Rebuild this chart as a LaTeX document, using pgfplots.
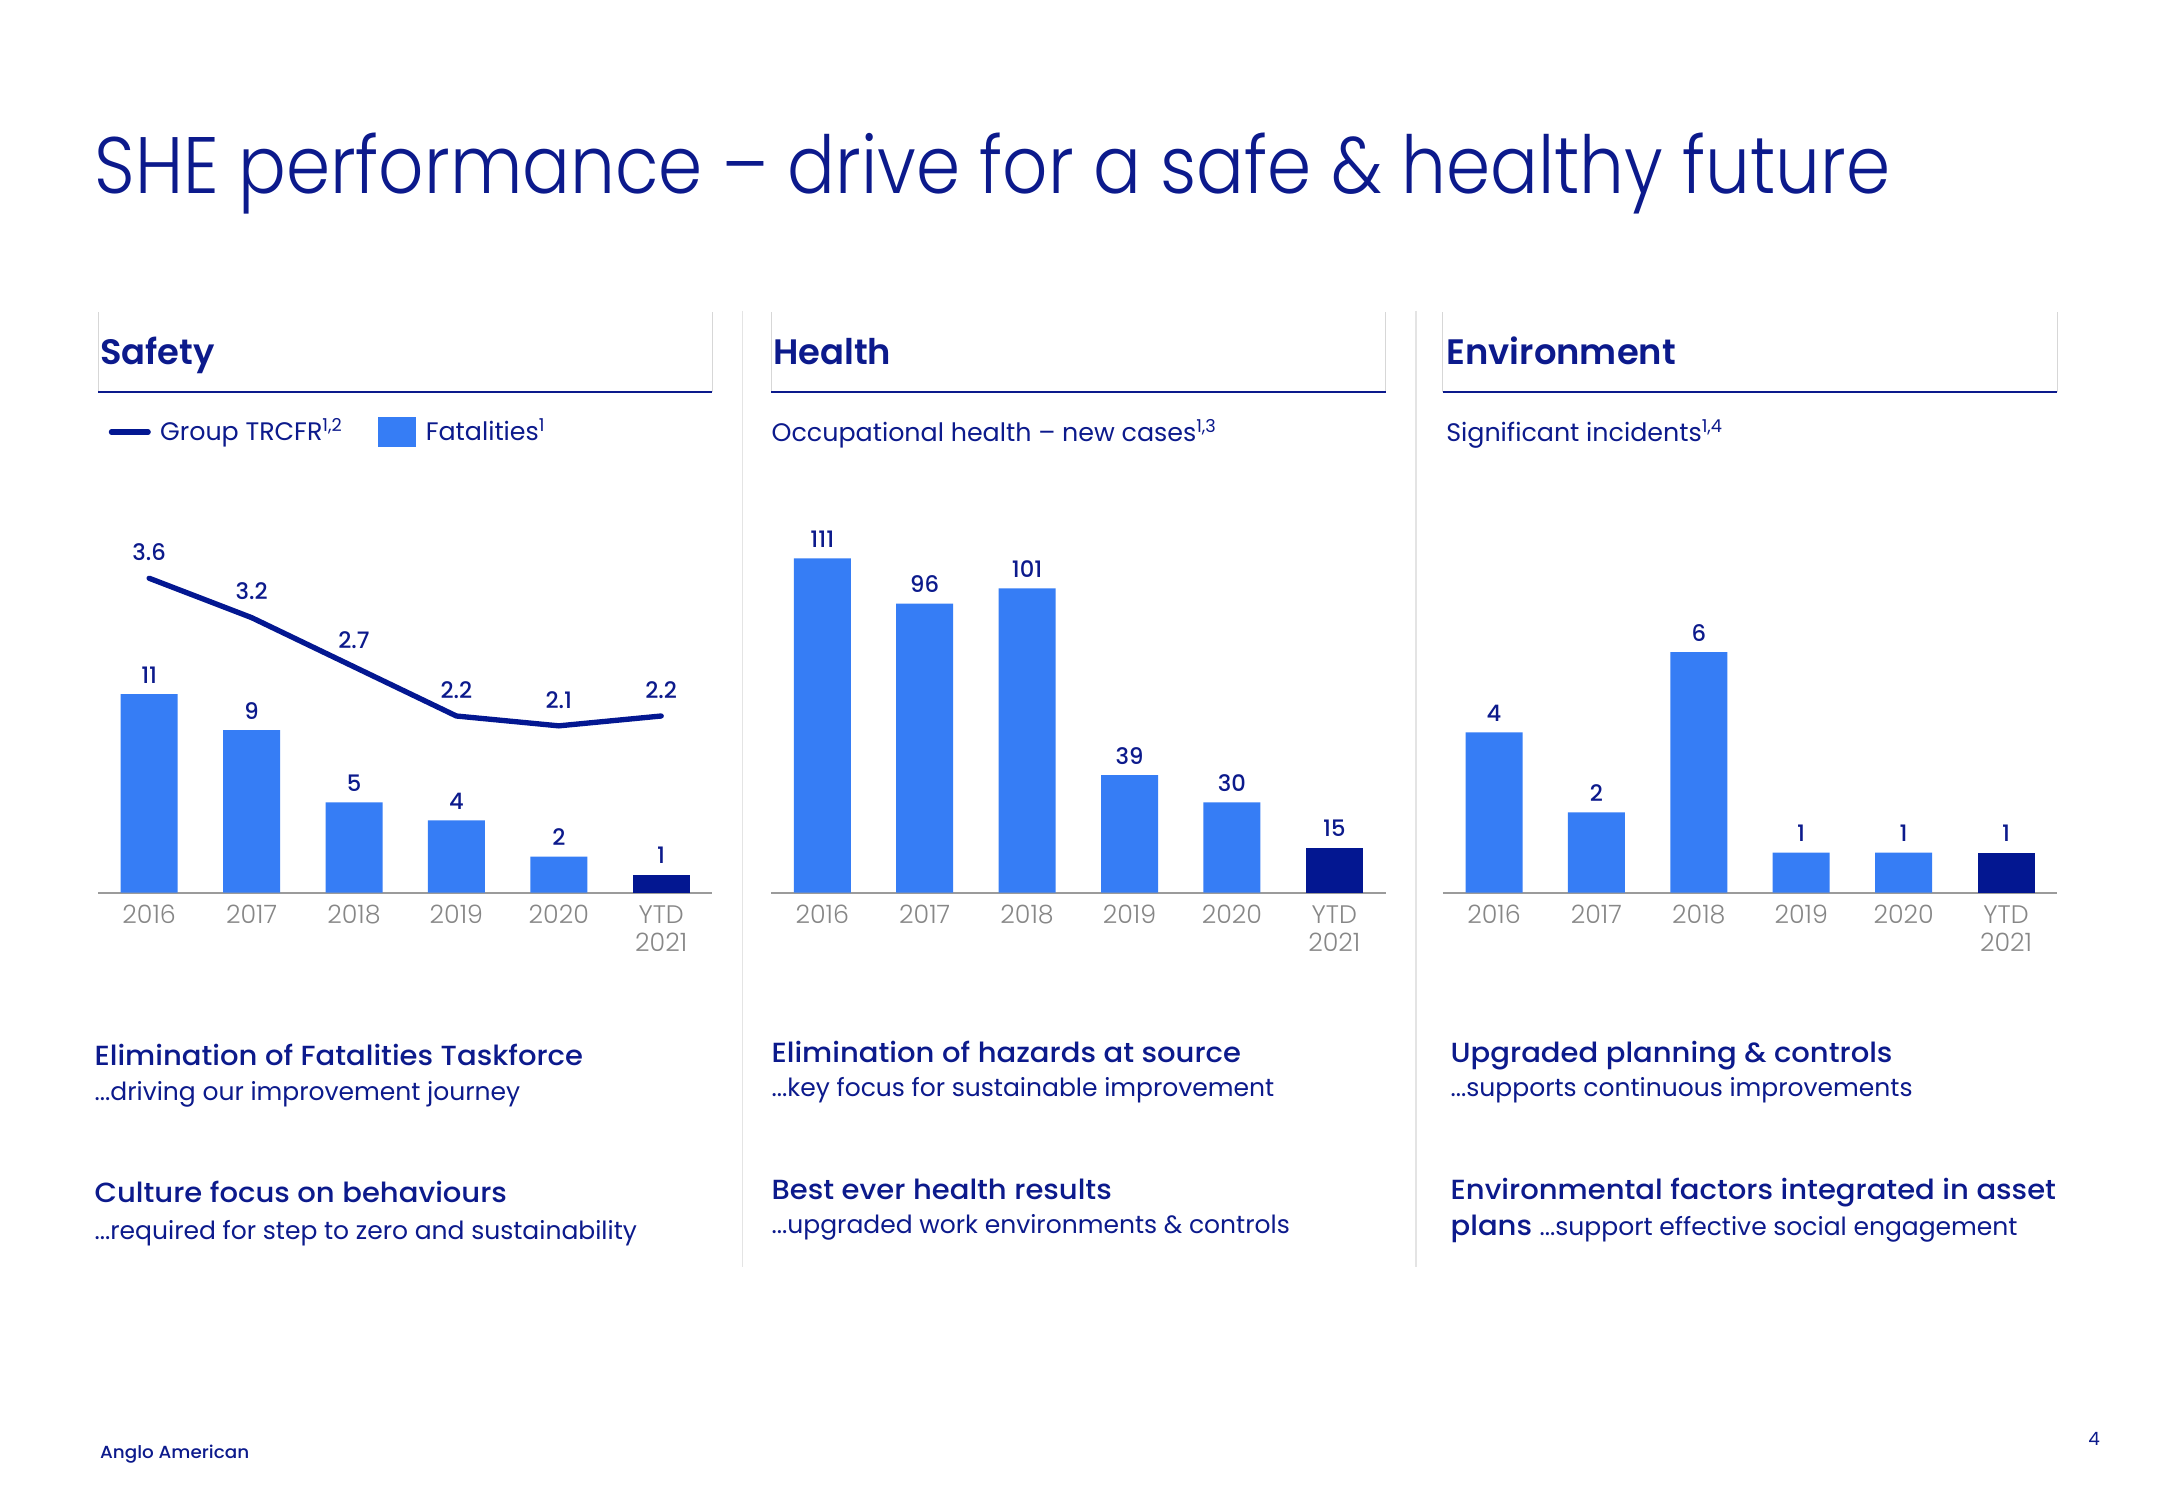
\documentclass[border=0pt]{standalone}
\usepackage{fontspec}
\setmainfont{Poppins}[BoldFont={Poppins Medium}, BoldFeatures={FakeStretch=1.05}]
\newfontfamily\titlefont{Poppins Light}[FakeStretch=0.886]
\newfontfamily\lightfont{Poppins Light}
\newfontfamily\headfont{Poppins SemiBold}
\newfontfamily\numfont{Poppins Medium}[Numbers=Monospaced]
\usepackage{pgfplots}
\pgfplotsset{compat=1.18}
\definecolor{aanavy}{RGB}{12,26,140}
\definecolor{aabar}{RGB}{54,125,245}
\definecolor{aadark}{RGB}{3,23,145}
\definecolor{aagray}{RGB}{135,135,135}
\definecolor{aaaxis}{RGB}{155,155,155}
\definecolor{aabox}{RGB}{215,215,215}
\definecolor{aasep}{RGB}{228,228,228}
\pgfplotsset{
  panel/.style={
    anchor=south west, x=30.72pt, xmin=-0.5, xmax=5.5, ymin=0,
    axis x line=bottom, axis y line=none,
    x axis line style={-, draw=aaaxis, line width=0.6pt},
    xtick={0,1,2,3,4,5},
    xticklabels={2016,2017,2018,2019,2020,{YTD\\2021}},
    major tick length=0pt, ytick=\empty,
    xticklabel style={font=\fontsize{7.6}{8.4}\lightfont, text=aagray, align=center, inner sep=0pt, yshift=-3.6pt},
    clip=false, ybar, bar width=17.1pt, bar shift=0pt,
    nodes near coords,
    nodes near coords style={font=\fontsize{6.8}{8}\numfont, text=aanavy, inner sep=0pt, anchor=south, yshift=3.1pt},
    /pgf/number format/assume math mode=true,
  }
}
\newcommand{\T}[4]{\node[anchor=base west, inner sep=0pt, text=aanavy, font=#3] at (#1,#2) {#4};}
\begin{document}
\begin{tikzpicture}[x=0.3pt,y=0.3pt]
\fill[white] (0,0) rectangle (2167,1500);
% title
\T{94}{1306}{\fontsize{24}{28}\titlefont}{SHE performance – drive for a safe \& healthy future}
% separators
\draw[aasep, line width=0.4pt] (742.4,1189) -- (742.4,233);
\draw[aasep, line width=0.4pt] (1416,1189) -- (1416,233);
% header boxes
\foreach \l/\r in {98/712.4, 771.1/1385.5, 1442.8/2057.2}{
  \draw[aabox, line width=0.3pt] (\l,1108.3) -- (\l,1188.3);
  \draw[aabox, line width=0.3pt] (\r,1108.3) -- (\r,1188.3);
  \draw[aanavy, line width=0.6pt] (\l,1108.3) -- (\r,1108.3);
}
\T{99.6}{1135}{\fontsize{10.6}{13}\headfont}{Safety}
\T{772.7}{1135}{\fontsize{10.6}{13}\headfont}{Health}
\T{1446}{1135}{\fontsize{10.6}{13}\headfont}{Environment}
\T{771}{1058.3}{\fontsize{7.6}{9}\selectfont}{Occupational health – new cases\textsuperscript{1,3}}
\T{1445.6}{1058.3}{\fontsize{7.6}{9}\selectfont}{Significant incidents\textsuperscript{1,4}}
% text blocks
\T{94}{434}{\fontsize{8.3}{9}\selectfont\bfseries}{Elimination of Fatalities Taskforce}
\T{94}{399}{\fontsize{7.5}{9}\selectfont}{...driving our improvement journey}
\T{94}{297}{\fontsize{8.3}{9}\selectfont\bfseries}{Culture focus on behaviours}
\T{94}{260}{\fontsize{7.5}{9}\selectfont}{...required for step to zero and sustainability}
\T{771}{437}{\fontsize{8.3}{9}\selectfont\bfseries}{Elimination of hazards at source}
\T{771}{403}{\fontsize{7.5}{9}\selectfont}{...key focus for sustainable improvement}
\T{771}{300}{\fontsize{8.3}{9}\selectfont\bfseries}{Best ever health results}
\T{771}{266}{\fontsize{7.5}{9}\selectfont}{...upgraded work environments \& controls}
\T{1450}{437}{\fontsize{8.3}{9}\selectfont\bfseries}{Upgraded planning \& controls}
\T{1450}{403}{\fontsize{7.5}{9}\selectfont}{...supports continuous improvements}
\T{1450}{300}{\fontsize{8.3}{9}\selectfont\bfseries}{Environmental factors integrated in asset}
\T{1450}{264}{\fontsize{8.3}{9}\selectfont\bfseries}{plans {\mdseries\fontsize{7.5}{9}\selectfont ...support effective social engagement}}
% footer
\T{99.5}{41}{\fontsize{5.25}{7}\selectfont\bfseries}{Anglo American}
\node[anchor=base, inner sep=0pt, text=aanavy, font=\fontsize{5.5}{7}\selectfont] at (2094,54) {4};

% Safety bars
\begin{axis}[panel, at={(29.4pt,182.19pt)}, y=5.418pt, ymax=18.4,
  legend style={at={(0.0165,1.3864)}, anchor=west, draw=none, fill=none, inner sep=0pt,
    font=\fontsize{7.6}{9}\selectfont, text=aanavy, legend columns=2,
    /tikz/every even column/.append style={column sep=8.3pt},
    /tikz/every odd column/.append style={column sep=0.8pt}},
  legend cell align=left]
\addlegendimage{legend image code/.code={\draw[aadark, line width=1.6pt, line cap=round] (0pt,0pt) -- (11pt,0pt);}}
\addlegendentry{Group TRCFR\textsuperscript{1,2}}
\addlegendimage{legend image code/.code={\fill[aabar] (0pt,-4.3pt) rectangle (11.2pt,4.3pt);}}
\addlegendentry{Fatalities\textsuperscript{1}}
\addplot[fill=aabar, draw=none, forget plot] coordinates {(0,11) (1,9) (2,5) (3,4) (4,2)};
\addplot[fill=aadark, draw=none, forget plot] coordinates {(5,1)};
\end{axis}
% Safety line
\begin{axis}[at={(29.4pt,182.19pt)}, anchor=south west, x=30.72pt, y=29.52pt,
  xmin=-0.5, xmax=5.5, ymin=0.4045, ymax=4.2, hide axis, clip=false,
  nodes near coords,
  nodes near coords style={font=\fontsize{6.8}{8}\numfont, text=aanavy, inner sep=0pt, anchor=south, yshift=4.5pt},
  /pgf/number format/assume math mode=true]
\addplot[aadark, line width=1.6pt, line join=round, line cap=round, mark=none] coordinates {(0,3.6) (1,3.2) (2,2.7) (3,2.2) (4,2.1) (5,2.2)};
\end{axis}
% Health
\begin{axis}[panel, at={(231.33pt,182.19pt)}, y=0.9036pt, ymax=125]
\addplot[fill=aabar, draw=none] coordinates {(0,111) (1,96) (2,101) (3,39) (4,30)};
\addplot[fill=aadark, draw=none] coordinates {(5,15)};
\end{axis}
% Environment
\begin{axis}[panel, at={(432.84pt,182.19pt)}, y=12.03pt, ymax=8]
\addplot[fill=aabar, draw=none] coordinates {(0,4) (1,2) (2,6) (3,1) (4,1)};
\addplot[fill=aadark, draw=none] coordinates {(5,1)};
\end{axis}
\end{tikzpicture}
\end{document}
